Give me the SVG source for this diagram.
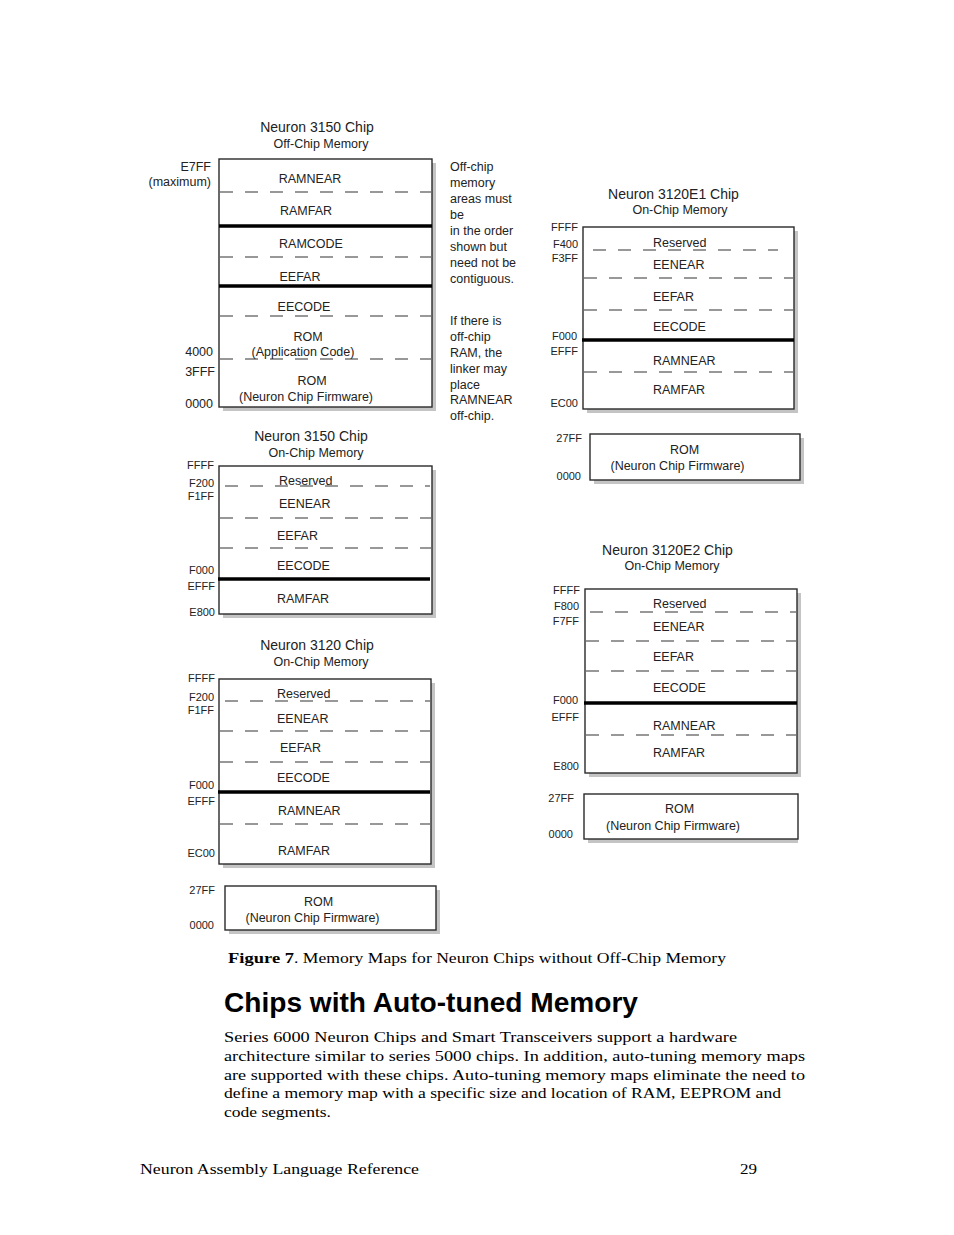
<svg xmlns="http://www.w3.org/2000/svg" width="954" height="1235" viewBox="0 0 954 1235">
<style>
.bg{fill:#fff}
.sh{fill:#c4c4c4}
.box{fill:#fff;stroke:#2a2a2a;stroke-width:1.4}
.dash{stroke:#333;stroke-width:1.2;stroke-dasharray:13 12;fill:none}
.thick{stroke:#000;stroke-width:3.5;fill:none}
text{font-family:"Liberation Sans",Arial,sans-serif;fill:#222}
.lbl{font-size:12.5px}
.c{text-anchor:middle}
.a{font-size:11px;text-anchor:end}
.al{font-size:12.5px;text-anchor:end}
.t{font-size:14px;text-anchor:middle}
.s{font-size:12.5px;text-anchor:middle}
.note{font-size:12.5px}
.serif{font-family:"Liberation Serif","Times New Roman",serif;fill:#000}
.h{font-family:"Liberation Sans",Arial,sans-serif;font-weight:bold;font-size:28px;fill:#000}
</style>
<rect class="bg" x="0" y="0" width="954" height="1235"/>

<g id="chip3150-offchip">
  <text class="t" x="317" y="132">Neuron 3150 Chip</text>
  <text class="s" x="321" y="148">Off-Chip Memory</text>
  <rect class="sh" x="223" y="163" width="213" height="248"/>
  <rect class="box" x="219" y="159" width="213" height="248"/>
  <line class="dash" x1="220" y1="192" x2="431" y2="192"/>
  <line class="thick" x1="219" y1="226" x2="432" y2="226"/>
  <line class="dash" x1="220" y1="257" x2="431" y2="257"/>
  <line class="thick" x1="219" y1="286" x2="432" y2="286"/>
  <line class="dash" x1="220" y1="316" x2="431" y2="316"/>
  <line class="dash" x1="220" y1="359" x2="431" y2="359"/>
  <text class="lbl c" x="310" y="183">RAMNEAR</text>
  <text class="lbl c" x="306" y="215">RAMFAR</text>
  <text class="lbl c" x="311" y="248">RAMCODE</text>
  <text class="lbl c" x="300" y="281">EEFAR</text>
  <text class="lbl c" x="304" y="311">EECODE</text>
  <text class="lbl c" x="308" y="341">ROM</text>
  <text class="lbl c" x="303" y="356">(Application Code)</text>
  <text class="lbl c" x="312" y="385">ROM</text>
  <text class="lbl c" x="306" y="401">(Neuron Chip Firmware)</text>
  <text class="al" x="211" y="171">E7FF</text>
  <text class="al" x="211" y="186">(maximum)</text>
  <text class="al" x="213" y="356">4000</text>
  <text class="al" x="215" y="376">3FFF</text>
  <text class="al" x="213" y="408">0000</text>
</g>

<g id="offchip-notes">
  <text class="note" x="450" y="171">Off-chip</text>
  <text class="note" x="450" y="187">memory</text>
  <text class="note" x="450" y="203">areas must</text>
  <text class="note" x="450" y="219">be</text>
  <text class="note" x="450" y="235">in the order</text>
  <text class="note" x="450" y="251">shown but</text>
  <text class="note" x="450" y="267">need not be</text>
  <text class="note" x="450" y="283">contiguous.</text>
  <text class="note" x="450" y="325">If there is</text>
  <text class="note" x="450" y="341">off-chip</text>
  <text class="note" x="450" y="357">RAM, the</text>
  <text class="note" x="450" y="373">linker may</text>
  <text class="note" x="450" y="389">place</text>
  <text class="note" x="450" y="404">RAMNEAR</text>
  <text class="note" x="450" y="420">off-chip.</text>
</g>

<g id="chip3150-onchip">
  <text class="t" x="311" y="441">Neuron 3150 Chip</text>
  <text class="s" x="316" y="457">On-Chip Memory</text>
  <rect class="sh" x="223" y="470" width="213" height="148"/>
  <rect class="box" x="219" y="466" width="213" height="148"/>
  <line class="dash" x1="225" y1="486" x2="430" y2="486"/>
  <line class="dash" x1="220" y1="518" x2="431" y2="518"/>
  <line class="dash" x1="220" y1="548" x2="431" y2="548"/>
  <line class="thick" x1="218" y1="579" x2="430" y2="579"/>
  <text class="lbl" x="279" y="484.5">Reserved</text>
  <text class="lbl" x="279" y="507.5">EENEAR</text>
  <text class="lbl" x="277" y="539.5">EEFAR</text>
  <text class="lbl" x="277" y="569.5">EECODE</text>
  <text class="lbl" x="277" y="602.5">RAMFAR</text>
  <text class="a" x="214" y="469">FFFF</text>
  <text class="a" x="214" y="487">F200</text>
  <text class="a" x="214" y="500">F1FF</text>
  <text class="a" x="214" y="574">F000</text>
  <text class="a" x="215" y="590">EFFF</text>
  <text class="a" x="215" y="616">E800</text>
</g>

<g id="chip3120-onchip">
  <text class="t" x="317" y="650">Neuron 3120 Chip</text>
  <text class="s" x="321" y="666">On-Chip Memory</text>
  <rect class="sh" x="223" y="683" width="212" height="185"/>
  <rect class="box" x="219" y="679" width="212" height="185"/>
  <line class="dash" x1="225" y1="701" x2="430" y2="701"/>
  <line class="dash" x1="220" y1="731" x2="430" y2="731"/>
  <line class="dash" x1="220" y1="762" x2="430" y2="762"/>
  <line class="thick" x1="218" y1="792" x2="430" y2="792"/>
  <line class="dash" x1="220" y1="824" x2="430" y2="824"/>
  <text class="lbl" x="277" y="697.5">Reserved</text>
  <text class="lbl" x="277" y="722.5">EENEAR</text>
  <text class="lbl" x="280" y="751.5">EEFAR</text>
  <text class="lbl" x="277" y="781.5">EECODE</text>
  <text class="lbl" x="278" y="814.5">RAMNEAR</text>
  <text class="lbl" x="278" y="854.5">RAMFAR</text>
  <text class="a" x="215" y="682">FFFF</text>
  <text class="a" x="214" y="701">F200</text>
  <text class="a" x="214" y="714">F1FF</text>
  <text class="a" x="214" y="789">F000</text>
  <text class="a" x="215" y="805">EFFF</text>
  <text class="a" x="215" y="857">EC00</text>
</g>

<g id="chip3120-rom">
  <rect class="sh" x="229" y="890" width="211" height="44"/>
  <rect class="box" x="225" y="886" width="211" height="44"/>
  <text class="lbl c" x="318.5" y="905.5">ROM</text>
  <text class="lbl c" x="312.5" y="921.5">(Neuron Chip Firmware)</text>
  <text class="a" x="215" y="894">27FF</text>
  <text class="a" x="214" y="929">0000</text>
</g>

<g id="chip3120E1-onchip">
  <text class="t" x="673.5" y="199">Neuron 3120E1 Chip</text>
  <text class="s" x="680" y="214">On-Chip Memory</text>
  <rect class="sh" x="587" y="231" width="211" height="182"/>
  <rect class="box" x="583" y="227" width="211" height="182"/>
  <line class="dash" x1="593" y1="250" x2="778" y2="250"/>
  <line class="dash" x1="584" y1="278" x2="793" y2="278"/>
  <line class="dash" x1="584" y1="310" x2="793" y2="310"/>
  <line class="thick" x1="582" y1="340" x2="794" y2="340"/>
  <line class="dash" x1="584" y1="372" x2="793" y2="372"/>
  <text class="lbl" x="653" y="246.5">Reserved</text>
  <text class="lbl" x="653" y="268.5">EENEAR</text>
  <text class="lbl" x="653" y="300.5">EEFAR</text>
  <text class="lbl" x="653" y="330.5">EECODE</text>
  <text class="lbl" x="653" y="364.5">RAMNEAR</text>
  <text class="lbl" x="653" y="393.5">RAMFAR</text>
  <text class="a" x="578" y="231">FFFF</text>
  <text class="a" x="578" y="248">F400</text>
  <text class="a" x="578" y="262">F3FF</text>
  <text class="a" x="577" y="340">F000</text>
  <text class="a" x="578" y="355">EFFF</text>
  <text class="a" x="578" y="407">EC00</text>
</g>

<g id="chip3120E1-rom">
  <rect class="sh" x="594" y="438" width="210" height="46"/>
  <rect class="box" x="590" y="434" width="210" height="46"/>
  <text class="lbl c" x="684.5" y="453.5">ROM</text>
  <text class="lbl c" x="677.5" y="469.5">(Neuron Chip Firmware)</text>
  <text class="a" x="582" y="442">27FF</text>
  <text class="a" x="581" y="480">0000</text>
</g>

<g id="chip3120E2-onchip">
  <text class="t" x="667.5" y="555">Neuron 3120E2 Chip</text>
  <text class="s" x="672" y="570">On-Chip Memory</text>
  <rect class="sh" x="589" y="593" width="212" height="184"/>
  <rect class="box" x="585" y="589" width="212" height="184"/>
  <line class="dash" x1="590" y1="612" x2="796" y2="612"/>
  <line class="dash" x1="586" y1="641" x2="796" y2="641"/>
  <line class="dash" x1="586" y1="671" x2="796" y2="671"/>
  <line class="thick" x1="584" y1="703" x2="797" y2="703"/>
  <line class="dash" x1="586" y1="735" x2="796" y2="735"/>
  <text class="lbl" x="653" y="607.5">Reserved</text>
  <text class="lbl" x="653" y="630.5">EENEAR</text>
  <text class="lbl" x="653" y="660.5">EEFAR</text>
  <text class="lbl" x="653" y="691.5">EECODE</text>
  <text class="lbl" x="653" y="729.5">RAMNEAR</text>
  <text class="lbl" x="653" y="756.5">RAMFAR</text>
  <text class="a" x="580" y="594">FFFF</text>
  <text class="a" x="579" y="610">F800</text>
  <text class="a" x="579" y="625">F7FF</text>
  <text class="a" x="578" y="704">F000</text>
  <text class="a" x="579" y="721">EFFF</text>
  <text class="a" x="579" y="770">E800</text>
</g>

<g id="chip3120E2-rom">
  <rect class="sh" x="588" y="798" width="210" height="45"/>
  <rect class="box" x="584" y="794" width="214" height="45"/>
  <text class="lbl c" x="679.5" y="812.5">ROM</text>
  <text class="lbl c" x="673" y="829.5">(Neuron Chip Firmware)</text>
  <text class="a" x="574" y="802">27FF</text>
  <text class="a" x="573" y="838">0000</text>
</g>

<g id="connectors"></g>

<g id="page-text">
  <text class="serif" x="228" y="963" font-size="15" font-weight="bold" textLength="66" lengthAdjust="spacingAndGlyphs">Figure 7</text>
  <text class="serif" x="294" y="963" font-size="15" textLength="432" lengthAdjust="spacingAndGlyphs">. Memory Maps for Neuron Chips without Off-Chip Memory</text>
  <text class="h" x="224" y="1012" textLength="414" lengthAdjust="spacingAndGlyphs">Chips with Auto-tuned Memory</text>
  <text class="serif" x="224" y="1042" font-size="15.5" textLength="513" lengthAdjust="spacingAndGlyphs">Series 6000 Neuron Chips and Smart Transceivers support a hardware</text>
  <text class="serif" x="224" y="1061" font-size="15.5" textLength="581" lengthAdjust="spacingAndGlyphs">architecture similar to series 5000 chips. In addition, auto-tuning memory maps</text>
  <text class="serif" x="224" y="1080" font-size="15.5" textLength="581" lengthAdjust="spacingAndGlyphs">are supported with these chips. Auto-tuning memory maps eliminate the need to</text>
  <text class="serif" x="224" y="1098" font-size="15.5" textLength="557" lengthAdjust="spacingAndGlyphs">define a memory map with a specific size and location of RAM, EEPROM and</text>
  <text class="serif" x="224" y="1117" font-size="15.5" textLength="107" lengthAdjust="spacingAndGlyphs">code segments.</text>
  <text class="serif" x="140" y="1174" font-size="15" textLength="279" lengthAdjust="spacingAndGlyphs">Neuron Assembly Language Reference</text>
  <text class="serif" x="740" y="1174" font-size="15" textLength="17" lengthAdjust="spacingAndGlyphs">29</text>
</g>
</svg>
